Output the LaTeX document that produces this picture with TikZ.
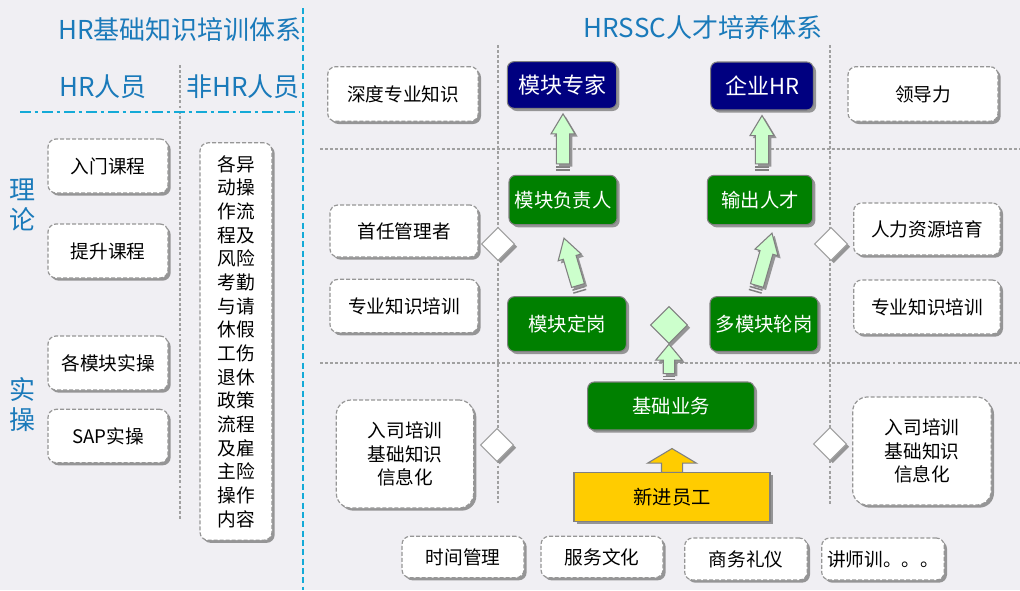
\documentclass[tikz,border=0pt]{standalone}
\usepackage{fontspec}
\setmainfont{Noto Sans CJK SC}
\usetikzlibrary{shapes.geometric,shadows,calc}
\definecolor{bg}{RGB}{240,239,243}
\definecolor{ttlblue}{RGB}{26,122,186}
\definecolor{lineblue}{RGB}{20,170,215}
\definecolor{navyb}{RGB}{0,0,128}
\definecolor{greenb}{RGB}{0,128,0}
\definecolor{lgreen}{RGB}{204,255,204}
\definecolor{yel}{RGB}{255,204,0}
\definecolor{dgrey}{RGB}{150,150,150}
\definecolor{lgrey}{RGB}{160,160,160}

\tikzset{
 shd/.style={drop shadow={shadow xshift=2pt,shadow yshift=-2pt,fill=black!45,opacity=0.9}},
 ttl/.style={text=ttlblue,font=\fontsize{19.5}{23}\selectfont,inner sep=0pt},
 side/.style={text=ttlblue,font=\fontsize{19.5}{22.5}\selectfont,inner sep=0pt,align=center},
 wb/.style={draw=dgrey,dash pattern=on 3pt off 1.5pt,line width=0.9pt,fill=white,rounded corners=6pt,shd,inner sep=0pt,align=center,font=\fontsize{14}{17.5}\selectfont},
 cb/.style={draw=gray,line width=0.8pt,rounded corners=5pt,shd,inner sep=0pt,text=white,align=center,font=\fontsize{14.5}{17}\selectfont},
 nb/.style={cb,fill=navyb,font=\fontsize{16.5}{19}\selectfont},
 gb/.style={cb,fill=greenb},
 yb/.style={draw=gray,line width=0.8pt,fill=yel,shd,inner sep=0pt,text=black,font=\fontsize{14.5}{17}\selectfont},
 dm/.style={diamond,aspect=1,draw=lgrey,line width=0.8pt,fill=white,shd,inner sep=0pt,minimum size=25pt},
 dotl/.style={draw=lgrey,line width=1.8pt,dash pattern=on 2.2pt off 1.6pt},
 garr/.style={draw=gray,line width=0.8pt,fill=lgreen,shd},
 yarr/.style={draw=gray,line width=0.8pt,fill=yel},
}

% block arrow: start, tip, head length, head half width, shaft half width, style
\newcommand{\barrow}[6]{%
  \coordinate (ba-h) at ($(#2)!#3!(#1)$);
  \filldraw[#6] ($(#1)!#5!90:(#2)$) -- ($(ba-h)!#5!90:(#2)$) -- ($(ba-h)!#4!90:(#2)$) -- (#2)
    -- ($(ba-h)!#4!-90:(#2)$) -- ($(ba-h)!#5!-90:(#2)$) -- ($(#1)!#5!-90:(#2)$) -- cycle;
}
% striped block arrow
\newcommand{\sarrow}[6]{%
  \coordinate (sa-a) at ($(#1)!0.7pt!(#2)$);
  \coordinate (sa-b) at ($(#1)!3pt!(#2)$);
  \coordinate (sa-s) at ($(#1)!5.2pt!(#2)$);
  \draw[gray,line width=1.1pt] ($(sa-a)!#5!90:(#2)$) -- ($(sa-a)!#5!-90:(#2)$);
  \draw[gray,line width=1.1pt] ($(sa-b)!#5!90:(#2)$) -- ($(sa-b)!#5!-90:(#2)$);
  \barrow{sa-s}{#2}{#3}{#4}{#5}{#6}
}

\begin{document}
\begin{tikzpicture}[x=0.75pt,y=-0.75pt]
\useasboundingbox (0,0) rectangle (1020,590);
\fill[bg] (0,0) rectangle (1020,590);

% grid lines
\draw[dotl] (180,65) -- (180,520);
\draw[dotl] (320,149) -- (1020,149);
\draw[dotl] (320,363) -- (1020,363);
\draw[dotl] (498,45) -- (498,503);
\draw[dotl] (830,45) -- (830,505);
\draw[lineblue,line width=2.2pt,dash pattern=on 4.5pt off 2.5pt] (303,8) -- (303,590);
\draw[lineblue,line width=2.2pt,dash pattern=on 8pt off 3pt on 2.5pt off 3pt] (20,112) -- (300,112);

% titles
\node[ttl] (t1) at (180,30) {HR基础知识培训体系};
\node[ttl] (t2) at (703,28) {HRSSC人才培养体系};
\node[ttl] (hr) at (103,87) {HR人员};
\node[ttl] (nhr) at (243,87) {非HR人员};
\node[side] (li) at (22,205) {理\\论};
\node[side] (sc) at (22,405) {实\\操};

% left boxes
\node[wb,minimum width=90pt,minimum height=40.5pt] (b1) at (108,166) {入门课程};
\node[wb,minimum width=90pt,minimum height=40.5pt] (b2) at (108,251) {提升课程};
\node[wb,minimum width=90pt,minimum height=40.5pt] (b3) at (108,363) {各模块实操};
\node[wb,minimum width=90pt,minimum height=40pt] (b4) at (108,436) {SAP实操};
\node[wb,minimum width=54pt,minimum height=298pt,font=\fontsize{14}{17.75}\selectfont] (b5) at (236,341.5)
 {各异\\动操\\作流\\程及\\风险\\考勤\\与请\\休假\\工伤\\退休\\政策\\流程\\及雇\\主险\\操作\\内容};

% right white boxes
\node[wb,minimum width=113pt,minimum height=41pt] (r1) at (403,94) {深度专业知识};
\node[wb,minimum width=112.5pt,minimum height=41pt] (r2) at (923,94) {领导力};
\node[wb,minimum width=111pt,minimum height=39pt] (r3) at (404,231) {首任管理者};
\node[wb,minimum width=111pt,minimum height=40pt] (r4) at (404,306) {专业知识培训};
\node[wb,minimum width=110pt,minimum height=39pt] (r5) at (927,229) {人力资源培育};
\node[wb,minimum width=110pt,minimum height=40.5pt] (r6) at (927,307) {专业知识培训};
\node[wb,rounded corners=11pt,minimum width=103pt,minimum height=81pt] (r7) at (405,454) {入司培训\\基础知识\\信息化};
\node[wb,rounded corners=11pt,minimum width=104pt,minimum height=81pt] (r8) at (922,451) {入司培训\\基础知识\\信息化};
\node[wb,minimum width=91.5pt,minimum height=31pt] (c1) at (463,557) {时间管理};
\node[wb,minimum width=91.5pt,minimum height=31pt] (c2) at (602,557) {服务文化};
\node[wb,minimum width=92pt,minimum height=31.5pt] (c3) at (746,559) {商务礼仪};
\node[wb,minimum width=92pt,minimum height=31.5pt] (c4) at (883,559) {讲师训。。。};

% coloured boxes
\node[nb,minimum width=82pt,minimum height=35pt] (m1) at (562,85) {模块专家};
\node[nb,minimum width=77pt,minimum height=36pt] (o1) at (762,86) {企业HR};
\node[gb,minimum width=81pt,minimum height=37pt] (m2) at (563,200) {模块负责人};
\node[gb,minimum width=79pt,minimum height=37pt] (o2) at (760,200) {输出人才};
\node[gb,minimum width=89pt,minimum height=41pt] (m3) at (567,324) {模块定岗};
\node[gb,minimum width=81pt,minimum height=41pt] (o3) at (764,324) {多模块轮岗};
\node[gb,minimum width=125pt,minimum height=36pt] (jc) at (671,406) {基础业务};
\node[yb,minimum width=147pt,minimum height=37pt] (xj) at (672,497) {新进员工};

% diamonds
\node[dm] (d1) at (498,244) {};
\node[dm] (d2) at (831,244) {};
\node[dm] (d3) at (497,445) {};
\node[dm] (d4) at (830,444) {};
\node[dm,fill=lgreen,draw=gray,minimum size=28pt] (gd) at (669,325) {};

% arrows
\coordinate (a1s) at ($(m2.north)+(0,-4)$);
\coordinate (a1e) at ($(m1.south)+(1,5)$);
\sarrow{a1s}{a1e}{15pt}{9pt}{5pt}{garr}
\coordinate (a2s) at ($(o2.north)+(2,-4)$);
\coordinate (a2e) at ($(o1.south)+(0,5)$);
\sarrow{a2s}{a2e}{15pt}{9pt}{5pt}{garr}
\coordinate (a3s) at ($(m3.north)+(13,-4)$);
\coordinate (a3e) at ($(m2.south)+(1,13)$);
\sarrow{a3s}{a3e}{15pt}{9pt}{5pt}{garr}
\coordinate (a4s) at ($(o3.north)+(-9,-4)$);
\coordinate (a4e) at ($(o2.south)+(12,8)$);
\sarrow{a4s}{a4e}{15pt}{9pt}{5pt}{garr}
\coordinate (a5s) at ($(jc.north)+(-2,-1)$);
\coordinate (a5e) at (gd.south);
\sarrow{a5s}{a5e}{12pt}{10pt}{4.3pt}{garr}
\coordinate (a6s) at ($(xj.north)+(0,0.5)$);
\coordinate (a6e) at ($(jc.south)+(1,18)$);
\barrow{a6s}{a6e}{11pt}{18.4pt}{7.9pt}{yarr}
\end{tikzpicture}
\end{document}
